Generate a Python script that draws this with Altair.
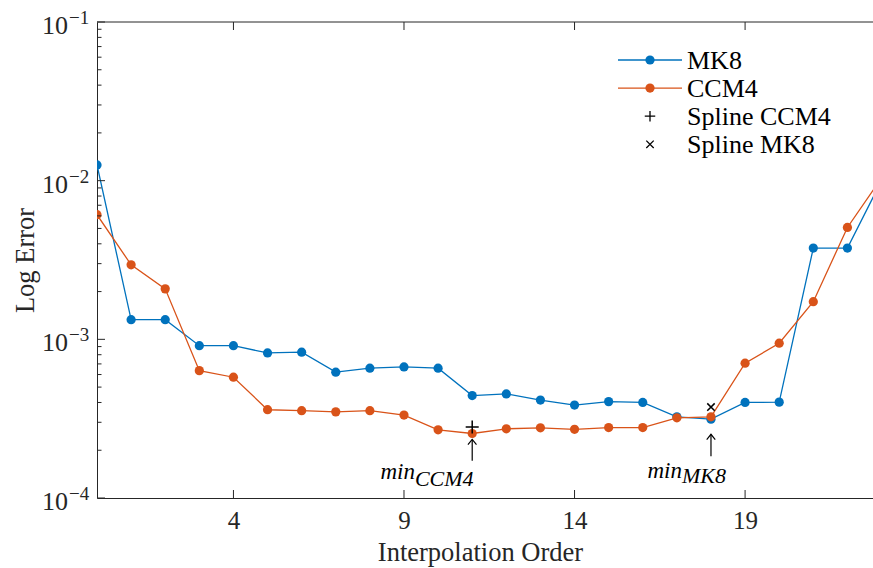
import altair as alt
import pandas as pd

# ---------------- data ----------------
orders = list(range(0, 24))
mk8 = [0.01256, 0.00133, 0.00133, 0.000912, 0.000912, 0.000821, 0.00083, 0.000621,
       0.000658, 0.00067, 0.000658, 0.000442, 0.000453, 0.000414, 0.000385, 0.000405,
       0.0004, 0.000325, 0.000314, 0.0004, 0.000402, 0.00376, 0.00376, 0.0100]
ccm4 = [0.0061, 0.00295, 0.00208, 0.000635, 0.000577, 0.00036, 0.000355, 0.000349,
        0.000355, 0.000333, 0.000269, 0.000255, 0.000273, 0.000277, 0.000271, 0.000278,
        0.000278, 0.00032, 0.000325, 0.000707, 0.000945, 0.001727, 0.00507, 0.0104]

spline_names = ["Spline CCM4", "Spline MK8"]
spline_x = [11, 18]
spline_y = [0.00028, 0.000374]

arrow_x = [11, 18]
arrow_tip = [0.000234, 0.000252]
arrow_tail = [0.000172, 0.000183]

label_main = ["min", "min"]
label_sub = ["CCM4", "MK8"]
label_x = [9.32, 17.15]
label_main_y = [0.000132, 0.0001337]
label_sub_y = [0.000119, 0.0001243]

x_ticks = [4, 9, 14, 19]
y_major = [1e-1, 1e-2, 1e-3, 1e-4]
y_exp = ["\u22121", "\u22122", "\u22123", "\u22124"]
y_minor = [m * 10.0 ** e for e in (-4, -3, -2) for m in range(2, 10)]

legend_labels = ["MK8", "CCM4", "Spline CCM4", "Spline MK8"]

# ---------------- style ----------------
BLUE = "#0072BD"
ORANGE = "#D95319"
AX = "#262626"
FONT = "Liberation Serif"
W, H = 776, 476

x_scale = alt.Scale(domain=[0, 22.75], nice=False, zero=False)
y_scale = alt.Scale(type="log", domain=[1e-4, 1e-1], nice=False)

X_AXIS = alt.Axis(values=x_ticks, title="Interpolation Order", grid=False, ticks=False,
                  tickSize=0, labelFont=FONT, labelFontSize=25, labelColor=AX,
                  labelPadding=30, labelBaseline="alphabetic", labelFlush=False,
                  domainColor=AX, domainWidth=1, titleFont=FONT, titleFontSize=26.5,
                  titleFontWeight="normal", titleColor=AX, titleBaseline="alphabetic",
                  titleX=383, titleY=62)
Y_AXIS = alt.Axis(labels=False, ticks=False, tickSize=0, grid=False, title="Log Error",
                  domainColor=AX, domainWidth=1, titleFont=FONT, titleFontSize=26.5,
                  titleFontWeight="normal", titleColor=AX, titleBaseline="alphabetic",
                  titleAngle=270, titleX=-64, titleY=238)


def X(f):
    return alt.X(f, type="quantitative", scale=x_scale, axis=X_AXIS)


def Y(f):
    return alt.Y(f, type="quantitative", scale=y_scale, axis=Y_AXIS)


df_mk8 = pd.DataFrame({"x": orders, "v": mk8})
df_ccm = pd.DataFrame({"x": orders, "v": ccm4})

layers = []
for df, col in ((df_mk8, BLUE), (df_ccm, ORANGE)):
    layers.append(alt.Chart(df).mark_line(color=col, strokeWidth=1.3, clip=True)
                  .encode(x=X("x"), y=Y("v")))
    layers.append(alt.Chart(df).mark_point(filled=True, color=col, size=85, opacity=1, clip=True)
                  .encode(x=X("x"), y=Y("v")))

df_spl = pd.DataFrame({"x": spline_x, "v": spline_y, "name": spline_names})
layers.append(alt.Chart(df_spl.iloc[[0]]).mark_point(shape="M-1,0L1,0M0,-1L0,1", filled=False,
              color="black", strokeWidth=1.5, size=170, opacity=1).encode(x=X("x"), y=Y("v")))
layers.append(alt.Chart(df_spl.iloc[[1]]).mark_point(shape="M-1,-1L1,1M-1,1L1,-1", filled=False,
              color="black", strokeWidth=1.5, size=55, opacity=1).encode(x=X("x"), y=Y("v")))

# arrows
df_arr = pd.DataFrame({"x": arrow_x, "tip": arrow_tip, "tail": arrow_tail})
layers.append(alt.Chart(df_arr).mark_rule(color="black", strokeWidth=1.2)
              .encode(x=X("x"), y=Y("tail"), y2=alt.Y2("tip")))
layers.append(alt.Chart(df_arr).mark_point(shape="M-0.9,1.1L0,0L0.9,1.1", filled=False,
              color="black", strokeWidth=1.2, size=90, opacity=1).encode(x=X("x"), y=Y("tip")))

# min labels
df_lab = pd.DataFrame({"x": label_x, "ym": label_main_y, "ys": label_sub_y,
                       "main": label_main, "sub": label_sub})
layers.append(alt.Chart(df_lab).mark_text(align="right", baseline="alphabetic", font=FONT,
              fontStyle="italic", fontSize=23, color="black")
              .encode(x=X("x"), y=Y("ym"), text="main:N"))
layers.append(alt.Chart(df_lab).mark_text(align="left", baseline="alphabetic", font=FONT,
              fontStyle="italic", fontSize=22, color="black")
              .encode(x=X("x"), y=Y("ys"), text="sub:N"))

# inward ticks (box style)
df_xt = pd.DataFrame({"x": x_ticks})
layers.append(alt.Chart(df_xt).mark_rule(color=AX, strokeWidth=1)
              .encode(x=X("x"), y=alt.value(H), y2=alt.value(H - 8)))
layers.append(alt.Chart(df_xt).mark_rule(color=AX, strokeWidth=1)
              .encode(x=X("x"), y=alt.value(0), y2=alt.value(8)))
layers.append(alt.Chart(df_xt.iloc[[0]]).mark_rule(color=AX, strokeWidth=1)
              .encode(x=alt.value(0), x2=alt.value(W), y=alt.value(0)))

df_ym = pd.DataFrame({"v": y_major, "e": y_exp, "x": [0] * len(y_major)})
layers.append(alt.Chart(df_ym).mark_rule(color=AX, strokeWidth=1)
              .encode(y=Y("v"), x=alt.value(0), x2=alt.value(8)))
df_yn = pd.DataFrame({"v": y_minor})
layers.append(alt.Chart(df_yn).mark_rule(color=AX, strokeWidth=1)
              .encode(y=Y("v"), x=alt.value(0), x2=alt.value(4.5)))

# y tick labels 10^k
layers.append(alt.Chart(df_ym).mark_text(align="right", baseline="alphabetic", font=FONT,
              fontSize=26, color=AX, dx=-29, dy=12)
              .encode(x=X("x"), y=Y("v"), text=alt.value("10")))
layers.append(alt.Chart(df_ym).mark_text(align="left", baseline="alphabetic", font=FONT,
              fontSize=19, color=AX, dx=-28, dy=2)
              .encode(x=X("x"), y=Y("v"), text="e:N"))

# legend (manual, MATLAB-style, no box)
leg_kind = ["line", "line", "plus", "cross"]
leg_col = [BLUE, ORANGE, "black", "black"]
for i, lab in enumerate(legend_labels):
    yy = 38 + i * 28.1
    base = alt.Chart(pd.DataFrame({"label": [lab]}))
    if leg_kind[i] == "line":
        layers.append(base.mark_rule(color=leg_col[i], strokeWidth=1.3)
                      .encode(x=alt.value(521), x2=alt.value(585), y=alt.value(yy)))
        layers.append(base.mark_point(filled=True, color=leg_col[i], size=85, opacity=1)
                      .encode(x=alt.value(553), y=alt.value(yy)))
    elif leg_kind[i] == "plus":
        layers.append(base.mark_point(shape="M-1,0L1,0M0,-1L0,1", filled=False, color="black",
                      strokeWidth=1.3, size=110, opacity=1)
                      .encode(x=alt.value(553), y=alt.value(yy)))
    else:
        layers.append(base.mark_point(shape="M-1,-1L1,1M-1,1L1,-1", filled=False, color="black",
                      strokeWidth=1.3, size=55, opacity=1)
                      .encode(x=alt.value(553), y=alt.value(yy)))
    layers.append(base.mark_text(align="left", baseline="alphabetic", font=FONT, fontSize=26,
                  color="black").encode(x=alt.value(590), y=alt.value(yy + 8.5), text="label:N"))

chart = alt.layer(*layers).properties(
    width=W, height=H,
    autosize=alt.AutoSizeParams(type="none"),
    padding={"left": 97, "top": 22, "right": 0, "bottom": 70},
    background="white",
).configure_view(stroke=None)

chart.save("out.html", embed_options={"renderer": "svg", "actions": False})
